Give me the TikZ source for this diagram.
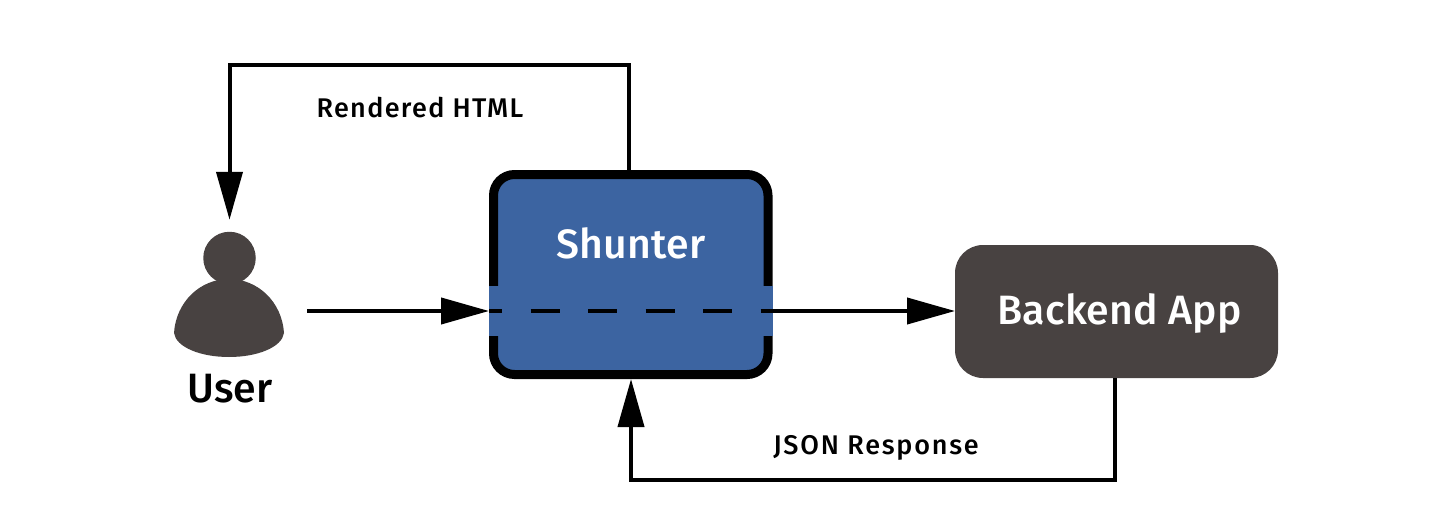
\documentclass[tikz,border=0pt]{standalone}
\usepackage{fontspec}
\setmainfont{Fira Sans}[UprightFont=* Medium,BoldFont=* SemiBold]
\usetikzlibrary{arrows.meta,calc}
\definecolor{shblue}{HTML}{3C64A1}
\definecolor{dark}{HTML}{484241}
\tikzset{
  conn/.style={line width=4pt,draw=black},
  tip/.style={-{Triangle[length=48pt,width=26pt]}},
  lab/.style={inner sep=0pt,outer sep=0pt,text=black,font=\fontsize{27}{30}\selectfont\addfontfeature{LetterSpace=5}},
  biglab/.style={inner sep=0pt,outer sep=0pt,font=\fontsize{41}{46}\selectfont\addfontfeature{LetterSpace=0.5}},
  shunterbox/.style={draw=black,line width=9pt,fill=shblue,rounded corners=21pt,inner sep=0pt,outer sep=4.5pt,minimum width=274.5pt,minimum height=200pt},
  stripbox/.style={fill=shblue,inner sep=0pt,outer sep=0pt,minimum width=283.5pt,minimum height=50pt},
  backendbox/.style={fill=dark,rounded corners=28pt,inner sep=0pt,outer sep=0pt,minimum width=323pt,minimum height=133pt},
  headshape/.style={circle,fill=dark,inner sep=0pt,outer sep=0pt,minimum size=52.5pt}
}
\begin{document}
\begin{tikzpicture}[x=1pt,y=-1pt]
\useasboundingbox (0,0) rectangle (1450,532);
\node[shunterbox] (shunter) at (630.75,274.5) {};
\node[stripbox] (strip) at (630.75,311) {};
\node[backendbox] (backend) at (1116.5,311.5) {};
\node[headshape] (head) at (229.5,258) {};
\fill[dark] (174,333) .. controls (176,302) and (200,279) .. (229,279)
  .. controls (258,279) and (282,302) .. (284,333)
  .. controls (282,347) and (258,357) .. (229,357)
  .. controls (200,357) and (176,347) .. (174,333) -- cycle;
\coordinate (userout) at (307,311);
\node[biglab,text=black] (userlab) at (230,389) {User};
\node[biglab,text=white] (shunterlab) at (631,243.5) {Shunter};
\node[biglab,text=white] (backendlab) at (1119.5,313) {Backend App};
\node[lab] (htmllab) at (420,108) {Rendered HTML};
\node[lab,font=\fontsize{27}{30}\selectfont\addfontfeature{LetterSpace=6.5}] (jsonlab) at (876,448) {JSON Response};
\coordinate (topcorner) at (229.5,65);
\coordinate (botcorner) at (631,480);
\draw[conn,tip,shorten >=12pt] ([xshift=-2pt]shunter.north) |- (topcorner) -- (head.north);
\draw[conn,tip] (userout) -- (strip.west);
\draw[conn,dash pattern=on 29pt off 28.5pt,dash phase=16pt] (strip.west) -- (strip.east);
\draw[conn,tip] (strip.east) -- (backend.west |- strip.east);
\draw[conn,tip] ([xshift=-1.5pt]backend.south) |- (botcorner) -- (shunter.south -| botcorner);
\end{tikzpicture}
\end{document}
